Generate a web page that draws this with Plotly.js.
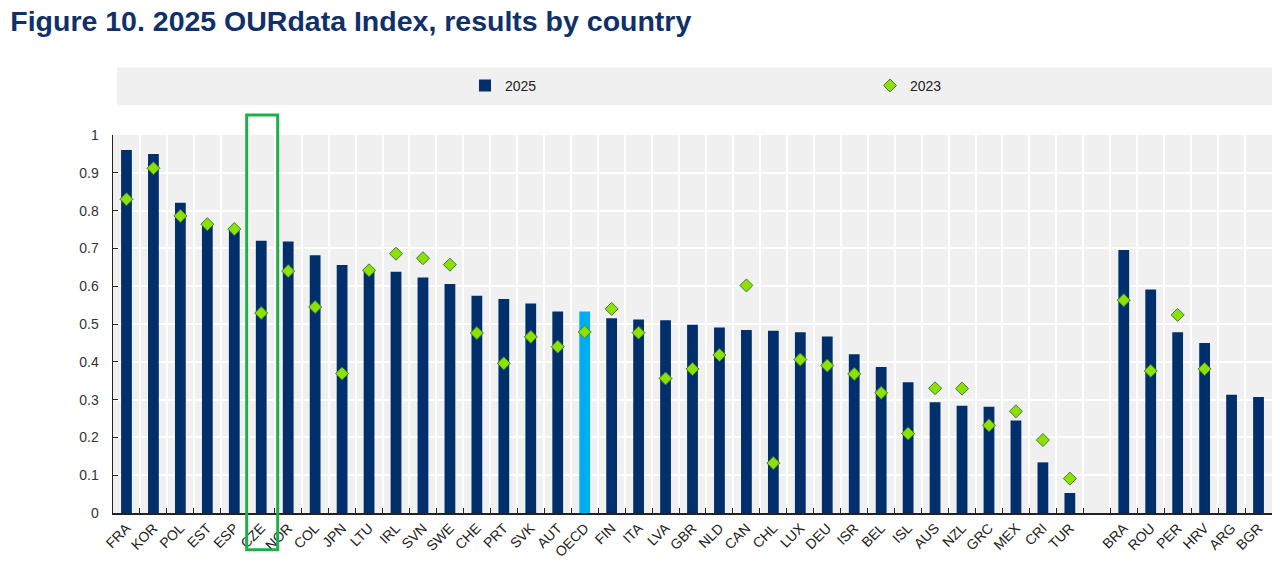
<!DOCTYPE html>
<html>
<head>
<meta charset="utf-8">
<script src="https://cdn.plot.ly/plotly-3.0.1.min.js"></script>
<style>html,body{margin:0;padding:0;background:#fff;}#chart{width:1280px;height:564px;}</style>
</head>
<body>
<div id="chart"></div>
<script>
const countries = ["FRA","KOR","POL","EST","ESP","CZE","NOR","COL","JPN","LTU","IRL","SVN","SWE","CHE","PRT","SVK","AUT","OECD","FIN","ITA","LVA","GBR","NLD","CAN","CHL","LUX","DEU","ISR","BEL","ISL","AUS","NZL","GRC","MEX","CRI","TUR"," ","BRA","ROU","PER","HRV","ARG","BGR"];
const values2025 = [0.960,0.950,0.821,0.762,0.750,0.720,0.718,0.682,0.656,0.641,0.638,0.623,0.606,0.575,0.566,0.554,0.533,0.533,0.515,0.512,0.510,0.498,0.491,0.484,0.482,0.478,0.467,0.420,0.386,0.346,0.293,0.284,0.281,0.245,0.134,0.053,null,0.696,0.591,0.478,0.450,0.313,0.307];
const values2023 = [0.830,0.912,0.786,0.764,0.751,0.529,0.640,0.545,0.369,0.642,0.686,0.674,0.657,0.476,0.396,0.466,0.440,0.479,0.540,0.477,0.356,0.381,0.418,0.602,0.132,0.406,0.390,0.368,0.318,0.210,0.330,0.329,0.232,0.269,0.193,0.091,null,0.563,0.376,0.524,0.381,null,null];
const highlight = "OECD";
const seriesNames = ["2025","2023"];

const navy = "#002f6c";
const barColors = countries.map(c => c === highlight ? "#00aeef" : navy);

const traces = [
  {type:"bar", x:countries, y:values2025, name:seriesNames[0], width:0.4,
   marker:{color:barColors, line:{width:0}}},
  {type:"scatter", mode:"markers", x:countries, y:values2023, name:seriesNames[1],
   marker:{symbol:"diamond", size:10, color:"#8ee000", line:{color:"#3c7d3c", width:1}}}
];

const layout = {
  width:1280, height:564,
  margin:{l:113, r:8, t:135, b:51, pad:0, autoexpand:false},
  paper_bgcolor:"#ffffff",
  plot_bgcolor:"#f0f0f0",
  font:{family:"Liberation Sans, Arial, sans-serif", size:13, color:"#222"},
  title:{text:"<b>Figure 10. 2025 OURdata Index, results by country</b>",
         font:{family:"Liberation Sans, Arial, sans-serif", size:28.5, color:"#10306a"},
         x:0.008, xanchor:"left", xref:"container", y:0.962, yanchor:"middle", yref:"container"},
  showlegend:true,
  legend:{orientation:"h", x:0.3037, xanchor:"left", y:1.13, yanchor:"middle",
          bgcolor:"rgba(0,0,0,0)", entrywidth:360, entrywidthmode:"pixels",
          font:{size:14, color:"#222"}, itemwidth:30, traceorder:"normal"},
  xaxis:{type:"category", range:[-0.5,42.5], autorange:false, automargin:false,
         tickson:"boundaries", ticks:"inside", ticklen:5, tickcolor:"#222",
         showgrid:true, gridcolor:"#ffffff", gridwidth:2,
         showline:true, linecolor:"#222", linewidth:1.5,
         tickangle:-45, tickfont:{size:14, color:"#222"}, fixedrange:true},
  yaxis:{range:[0,1], autorange:false, automargin:false, dtick:0.1, tick0:0,
         ticks:"inside", ticklen:5, tickcolor:"#222",
         showgrid:true, gridcolor:"#ffffff", gridwidth:2, zeroline:false,
         showline:true, linecolor:"#222", linewidth:1.5,
         tickfont:{size:14, color:"#333"}, ticklabelstandoff:10, fixedrange:true},
  shapes:[
    {type:"rect", xref:"paper", yref:"paper", x0:0.0035, x1:1.0, y0:1.079, y1:1.1786,
     fillcolor:"#f0f0f0", line:{width:0}, layer:"below"},
    {type:"rect", xref:"x", yref:"paper", x0:4.46, x1:5.61, y0:-0.097, y1:1.053,
     fillcolor:"rgba(0,0,0,0)", line:{color:"#1fae4a", width:3}, layer:"above"}
  ]
};

Plotly.newPlot("chart", traces, layout, {displayModeBar:false, staticPlot:true});
</script>
</body>
</html>
